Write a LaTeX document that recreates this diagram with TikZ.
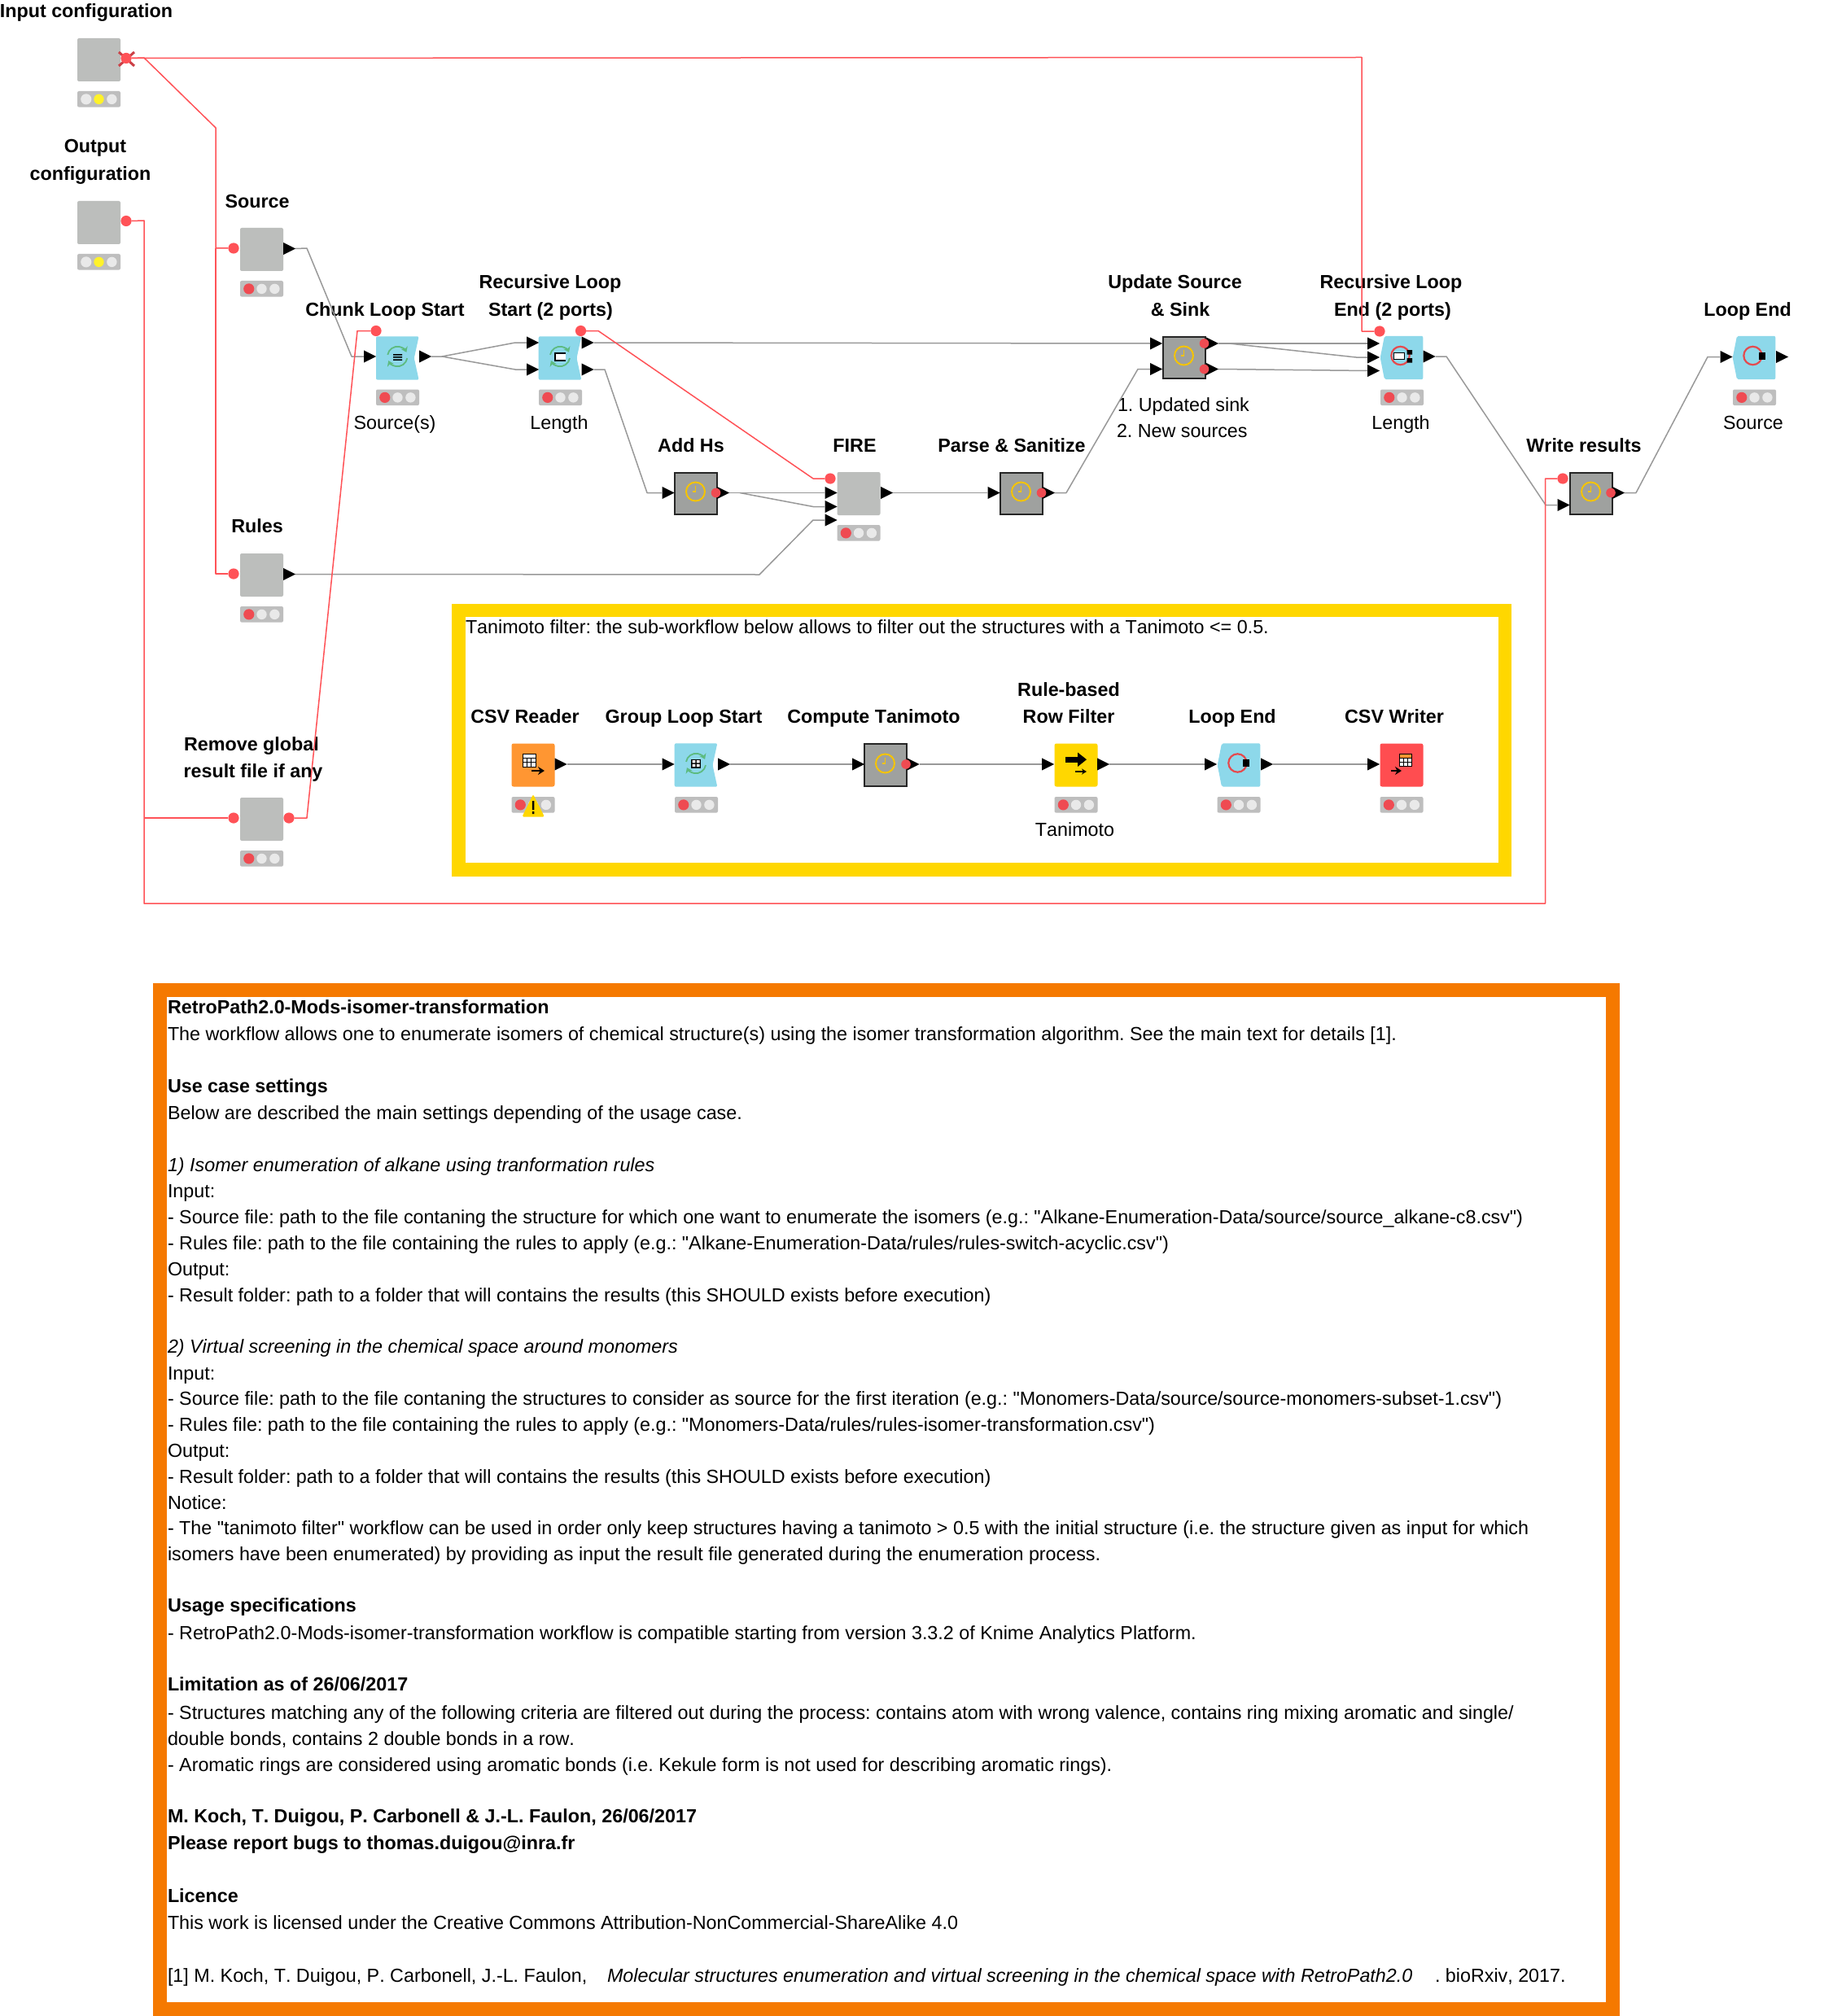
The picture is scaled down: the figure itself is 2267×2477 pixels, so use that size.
\documentclass[tikz,border=0pt]{standalone}
\usepackage{fontspec}
\setmainfont{Liberation Sans}[Ligatures={TeXOff,NoCommon},Kerning=Off]
\AtBeginDocument{\frenchspacing}
\usetikzlibrary{shapes.geometric,arrows.meta}
\definecolor{cgray}{HTML}{999999}
\definecolor{cred}{HTML}{FF5257}
\definecolor{cmeta}{HTML}{BCBEBC}
\definecolor{cstat}{HTML}{BEBEBE}
\definecolor{cdotr}{HTML}{EF4B52}
\definecolor{cdotw}{HTML}{E9E9E9}
\definecolor{cdoty}{HTML}{FFF22A}
\definecolor{cclock}{HTML}{9FA19F}
\definecolor{cclk}{HTML}{F5C400}
\definecolor{cblue}{HTML}{8DD8EA}
\definecolor{cgreen}{HTML}{5DBB80}
\definecolor{corange}{HTML}{FF9632}
\definecolor{cyell}{HTML}{FFD700}
\definecolor{cwriter}{HTML}{FF4D50}
\definecolor{cframeo}{HTML}{F57900}
\tikzset{
 x=0.5pt,y=-0.5pt,
 lbl/.style={font=\fontsize{11.65}{14}\selectfont\bfseries,anchor=base,inner sep=0pt,outer sep=0pt},
 nlb/.style={font=\fontsize{11.65}{14}\selectfont,anchor=base,inner sep=0pt,outer sep=0pt},
 txt/.style={font=\fontsize{11.65}{14}\selectfont,anchor=base west,inner sep=0pt,outer sep=0pt},
 txb/.style={txt,font=\fontsize{11.65}{14}\selectfont\bfseries},
 txi/.style={txt,font=\fontsize{11.65}{14}\selectfont\itshape},
 gline/.style={draw=cgray,line width=0.75pt,line join=round},
 rline/.style={draw=cred,line width=0.75pt,line join=round},
 metabox/.style={rectangle,rounded corners=1pt,fill=cmeta,minimum width=26.5pt,minimum height=26.5pt,inner sep=0pt,outer sep=0pt},
 clockbox/.style={rectangle,fill=cclock,draw=black!85,line width=0.9pt,minimum width=25.8pt,minimum height=25.8pt,inner sep=0pt,outer sep=0pt},
 flatbox/.style={rectangle,rounded corners=1.2pt,minimum width=26.5pt,minimum height=26.5pt,inner sep=0pt,outer sep=0pt},
 blankbox/.style={rectangle,minimum width=26.5pt,minimum height=26.5pt,inner sep=0pt,outer sep=0pt},
 statbg/.style={rectangle,rounded corners=1pt,fill=cstat,minimum width=26.5pt,minimum height=9.8pt,inner sep=0pt,outer sep=0pt,anchor=north west},
 triport/.style={isosceles triangle,isosceles triangle stretches,shape border rotate=0,fill=black,minimum width=7.6pt,minimum height=7.6pt,inner sep=0pt,outer sep=0pt,anchor=lower side},
 redport/.style={circle,fill=cred,minimum size=6.6pt,inner sep=0pt,outer sep=0pt},
 innerport/.style={circle,fill=cdotr,minimum size=5.8pt,inner sep=0pt,outer sep=0pt},
}
% status bar: name, left, top, first dot colour, second dot colour
\newcommand{\statbar}[5]{%
 \node[statbg] (#1) at (#2,#3) {};
 \fill[#4] (#2+10.8,#3+9.9) circle[radius=6.6];
 \fill[#5] (#2+26.5,#3+9.9) circle[radius=6.2];
 \fill[cdotw] (#2+42.4,#3+9.9) circle[radius=6.2];
}
\newcommand{\clockicon}[2]{%
 \draw[cclk,line width=1pt] (#1,#2) circle[radius=11.5];
 \draw[cclk,line width=0.6pt] (#1-4,#2) -- (#1,#2) -- (#1,#2-7);
}
\newcommand{\loopstart}[3]{%
 \fill[cblue,rounded corners=1pt] (#2-26.3,#3-26.7) -- (#2+26.3,#3-26.7) -- (#2+20.5,#3) -- (#2+26.3,#3+26.7) -- (#2-26.3,#3+26.7) -- cycle;
 \node[blankbox] (#1) at (#2,#3) {};
 \draw[cgreen,line width=0.9pt,-{Stealth[length=3.2pt,width=4.4pt]}] (#2-12,#3-4.1) arc[start angle=190,end angle=335,radius=12.2];
 \draw[cgreen,line width=0.9pt,-{Stealth[length=3.2pt,width=4.4pt]}] (#2+12,#3+0.1) arc[start angle=10,end angle=155,radius=12.2];
}
\newcommand{\loopend}[3]{%
 \fill[cblue,rounded corners=1pt] (#2-21,#3-26.7) -- (#2+26.3,#3-26.7) -- (#2+26.3,#3+26.7) -- (#2-21,#3+26.7) -- (#2-26.3,#3) -- cycle;
 \node[blankbox] (#1) at (#2,#3) {};
 \draw[cred!90!black,line width=1.1pt] (#2-1.5,#3-2.5) circle[radius=11.2];
}
\newcommand{\gridtable}[5]{% left top right bottom header colour
 \fill[white] (#1,#2) rectangle (#3,#4);
 \fill[#5] (#1,#2) rectangle (#3,#2+5);
 \draw[black,line width=0.45pt] (#1,#2) rectangle (#3,#4);
 \draw[black,line width=0.4pt] (#1,#2+5) -- (#3,#2+5) (#1,{(#2+5+#4)/2}) -- (#3,{(#2+5+#4)/2}) ({#1+(#3-#1)/3},#2+5) -- ({#1+(#3-#1)/3},#4) ({#1+2*(#3-#1)/3},#2+5) -- ({#1+2*(#3-#1)/3},#4);
}
\begin{document}
\begin{tikzpicture}
\useasboundingbox (0,0) rectangle (2267,2477);
\fill[white] (0,0) rectangle (2267,2477);
% frames
\fill[cyell] (555,742) rectangle (1857,1077);
\fill[white] (572,758) rectangle (1841,1060);
\fill[cframeo] (188,1208) rectangle (1990,2477);
\fill[white] (205,1225) rectangle (1973,2460);
% labels
\node[lbl] (tInp) at (106,21.5) {Input configuration};
\node[lbl] (tOut1) at (117,188) {Output};
\node[lbl] (tOut2) at (111,221.5) {configuration};
\node[lbl] (tSrc) at (316,255.5) {Source};
\node[lbl] (tChunk) at (473,388) {Chunk Loop Start};
\node[lbl] (tRecS1) at (676,354.5) {Recursive Loop};
\node[lbl] (tRecS2) at (676.5,388) {Start (2 ports)};
\node[nlb] (tSrcs) at (485,527) {Source(s)};
\node[nlb] (tLen1) at (687,527) {Length};
\node[lbl] (tAdd) at (849,555) {Add Hs};
\node[lbl] (tFire) at (1050,555) {FIRE};
\node[lbl] (tParse) at (1243,555) {Parse \& Sanitize};
\node[lbl] (tUpd1) at (1443.5,355) {Update Source};
\node[lbl] (tUpd2) at (1450,388) {\& Sink};
\node[txt] (tUpd3) at (1373,505) {1. Updated sink};
\node[txt] (tUpd4) at (1372,537) {2. New sources};
\node[lbl] (tRecE1) at (1709,355) {Recursive Loop};
\node[lbl] (tRecE2) at (1711,388) {End (2 ports)};
\node[nlb] (tLen2) at (1721,527) {Length};
\node[lbl] (tWrite) at (1946,555) {Write results};
\node[lbl] (tLend) at (2147,388) {Loop End};
\node[nlb] (tSrc2) at (2154,527) {Source};
\node[lbl] (tRules) at (316,654.5) {Rules};
\node[lbl] (tRem1) at (309,922) {Remove global};
\node[lbl] (tRem2) at (311,955) {result file if any};
\node[txt] (tTani) at (572,778) {Tanimoto filter: the sub-workflow below allows to filter out the structures with a Tanimoto <= 0.5.};
\node[lbl] (tCsvR) at (645,888) {CSV Reader};
\node[lbl] (tGls) at (840,888) {Group Loop Start};
\node[lbl] (tComp) at (1073.5,888) {Compute Tanimoto};
\node[lbl] (tRule1) at (1313,855) {Rule-based};
\node[lbl] (tRule2) at (1313,888) {Row Filter};
\node[lbl] (tSubE) at (1514,888) {Loop End};
\node[lbl] (tCsvW) at (1713,888) {CSV Writer};
\node[nlb] (tTani2) at (1320.5,1027) {Tanimoto};
% body text
\node[txb] (b01) at (206,1245) {RetroPath2.0-Mods-isomer-transformation};
\node[txt] (b02) at (206,1278) {The workflow allows one to enumerate isomers of chemical structure(s) using the isomer transformation algorithm. See the main text for details [1].};
\node[txb] (b03) at (206,1342) {Use case settings};
\node[txt] (b04) at (206,1375) {Below are described the main settings depending of the usage case.};
\node[txi] (b05) at (206,1439) {1) Isomer enumeration of alkane using tranformation rules};
\node[txt] (b06) at (206,1471) {Input:};
\node[txt] (b07) at (206,1503) {- Source file: path to the file contaning the structure for which one want to enumerate the isomers (e.g.: "Alkane-Enumeration-Data/source/source\_alkane-c8.csv")};
\node[txt] (b08) at (206,1535) {- Rules file: path to the file containing the rules to apply (e.g.: "Alkane-Enumeration-Data/rules/rules-switch-acyclic.csv")};
\node[txt] (b09) at (206,1567) {Output:};
\node[txt] (b10) at (206,1599) {- Result folder: path to a folder that will contains the results (this SHOULD exists before execution)};
\node[txi] (b11) at (206,1662) {2) Virtual screening in the chemical space around monomers};
\node[txt] (b12) at (206,1695) {Input:};
\node[txt] (b13) at (206,1726.5) {- Source file: path to the file contaning the structures to consider as source for the first iteration (e.g.: "Monomers-Data/source/source-monomers-subset-1.csv")};
\node[txt] (b14) at (206,1758) {- Rules file: path to the file containing the rules to apply (e.g.: "Monomers-Data/rules/rules-isomer-transformation.csv")};
\node[txt] (b15) at (206,1790) {Output:};
\node[txt] (b16) at (206,1822) {- Result folder: path to a folder that will contains the results (this SHOULD exists before execution)};
\node[txt] (b17) at (206,1854) {Notice:};
\node[txt] (b18) at (206,1885) {- The "tanimoto filter" workflow can be used in order only keep structures having a tanimoto > 0.5 with the initial structure (i.e. the structure given as input for which};
\node[txt] (b19) at (206,1917) {isomers have been enumerated) by providing as input the result file generated during the enumeration process.};
\node[txb] (b20) at (206,1980) {Usage specifications};
\node[txt] (b21) at (206,2014) {- RetroPath2.0-Mods-isomer-transformation workflow is compatible starting from version 3.3.2 of Knime Analytics Platform.};
\node[txb] (b22) at (206,2077) {Limitation as of 26/06/2017};
\node[txt] (b23) at (206,2112) {- Structures matching any of the following criteria are filtered out during the process: contains atom with wrong valence, contains ring mixing aromatic and single/};
\node[txt] (b24) at (206,2144) {double bonds, contains 2 double bonds in a row.};
\node[txt] (b25) at (206,2176) {- Aromatic rings are considered using aromatic bonds (i.e. Kekule form is not used for describing aromatic rings).};
\node[txb] (b26) at (206,2239) {M. Koch, T. Duigou, P. Carbonell \& J.-L. Faulon, 26/06/2017};
\node[txb] (b27) at (206,2272) {Please report bugs to thomas.duigou@inra.fr};
\node[txb] (b28) at (206,2337) {Licence};
\node[txt] (b29) at (206,2370) {This work is licensed under the Creative Commons Attribution-NonCommercial-ShareAlike 4.0};
\node[txt] (b30) at (206,2435) {[1] M. Koch, T. Duigou, P. Carbonell, J.-L. Faulon,};
\node[txi] (b31) at (746,2435) {Molecular structures enumeration and virtual screening in the chemical space with RetroPath2.0};
\node[txt] (b32) at (1763,2435) {. bioRxiv, 2017.};
% node bodies
\node[metabox] (inp) at (121.5,73.5) {};
\statbar{sInp}{95}{112}{cdotw}{cdoty}
\node[metabox] (outp) at (121.5,273.5) {};
\statbar{sOut}{95}{312}{cdotw}{cdoty}
\node[metabox] (src) at (321.5,306.5) {};
\statbar{sSrc}{295}{345}{cdotr}{cdotw}
\node[metabox] (rules) at (321.5,706.5) {};
\statbar{sRules}{295}{745}{cdotr}{cdotw}
\node[metabox] (rem) at (321.5,1006.5) {};
\statbar{sRem}{295}{1045}{cdotr}{cdotw}
\loopstart{chunk}{488.3}{440}
\statbar{sChunk}{462}{478.5}{cdotr}{cdotw}
\fill[black] (483,435) rectangle (494,436.5) (483,438.2) rectangle (494,439.7) (483,441.4) rectangle (494,442.9);
\loopstart{recs}{688}{440}
\statbar{sRecs}{662}{478.5}{cdotr}{cdotw}
\fill[white] (682,434) rectangle (695,443);
\draw[black,line width=0.8pt] (695,434) -- (682,434) -- (682,443) -- (695,443);
\node[clockbox] (adds) at (855,606.5) {};
\clockicon{854.5}{604}
\node[metabox] (fire) at (1055,606.5) {};
\statbar{sFire}{1028.5}{645}{cdotr}{cdotw}
\node[clockbox] (parse) at (1255,606.5) {};
\clockicon{1254.5}{604}
\node[clockbox] (upd) at (1455,439.5) {};
\clockicon{1454.5}{437}
\loopend{rece}{1722}{439.5}
\statbar{sRece}{1696}{478.5}{cdotr}{cdotw}
\fill[white] (1712,433) rectangle (1725,441);
\draw[black,line width=0.5pt] (1712,433) rectangle (1725,441);
\fill[black] (1728.5,430) rectangle (1735,435.5) (1728.5,440) rectangle (1735,445.5);
\node[clockbox] (wr) at (1955,606.5) {};
\clockicon{1954.5}{604}
\loopend{lend}{2155}{439.5}
\statbar{sLend}{2129}{478.5}{cdotr}{cdotw}
\fill[black] (2160.5,433) rectangle (2169,442);
% sub-workflow node bodies
\node[flatbox,fill=corange] (csvr) at (655,940) {};
\statbar{sCsvr}{628.5}{979}{cdotr}{cdotw}
\fill[cyell,rounded corners=0.8pt] (655,976) -- (669,1003.5) -- (641.5,1003.5) -- cycle;
\fill[black] (653.8,984) rectangle (656.4,995) (653.8,997) rectangle (656.4,1000);
\gridtable{642}{926}{658}{942}{white}
\draw[black,line width=1.4pt,-{Stealth[length=4pt,width=5pt]}] (653,947) -- (669,947);
\loopstart{gls}{855}{940}
\statbar{sGls}{829}{979}{cdotr}{cdotw}
\fill[black] (849,932.5) rectangle (861,943.5);
\fill[white] (850.5,934) rectangle (854.3,937.4) (855.8,934) rectangle (859.5,937.4) (850.5,938.9) rectangle (854.3,942) (855.8,938.9) rectangle (859.5,942);
\node[clockbox] (comp) at (1088,940) {};
\clockicon{1087.5}{938}
\node[flatbox,fill=cyell] (rulef) at (1322,940) {};
\statbar{sRule}{1295.5}{979}{cdotr}{cdotw}
\fill[black] (1308.5,930) rectangle (1326,936.5);
\fill[black] (1324,924.5) -- (1335,933.2) -- (1324,942) -- cycle;
\draw[black,line width=0.8pt,-{Stealth[length=3pt,width=3.5pt]}] (1320.5,948) -- (1335,948);
\loopend{subend}{1522}{940}
\statbar{sSubE}{1495.5}{979}{cdotr}{cdotw}
\fill[black] (1527,933) rectangle (1535,942);
\node[flatbox,fill=cwriter] (csvw) at (1722,940) {};
\statbar{sCsvw}{1695.5}{979}{cdotr}{cdotw}
\gridtable{1719}{926}{1734}{941}{corange}
\draw[black,line width=1.4pt,-{Stealth[length=4pt,width=5pt]}] (1709,947) -- (1722,947);
% ports
\node[triport] (oSrc) at (348,305.5) {};
\node[triport] (iChunk) at (447,438) {};
\node[triport] (oChunk) at (515,438) {};
\node[triport] (iRecs1) at (647,421) {};
\node[triport] (iRecs2) at (647,454) {};
\node[triport] (oRecs1) at (714.5,421) {};
\node[triport] (oRecs2) at (714.5,454) {};
\node[triport] (iAdds) at (813.5,605.5) {};
\node[triport] (oAdds) at (881,605.5) {};
\node[triport] (iFire1) at (1013.5,605.5) {};
\node[triport] (iFire2) at (1013.5,622.5) {};
\node[triport] (iFire3) at (1013.5,639) {};
\node[triport] (oFire) at (1082,605.5) {};
\node[triport] (iParse) at (1213.5,605.5) {};
\node[triport] (oParse) at (1281,605.5) {};
\node[triport] (iUpd1) at (1413,422) {};
\node[triport] (iUpd2) at (1413,453.5) {};
\node[triport] (oUpd1) at (1482,422) {};
\node[triport] (oUpd2) at (1482,453.5) {};
\node[triport] (iRece1) at (1680,422) {};
\node[triport] (iRece2) at (1680,439) {};
\node[triport] (iRece3) at (1680,455.5) {};
\node[triport] (oRece) at (1748.5,438) {};
\node[triport] (iWr) at (1913.5,620.5) {};
\node[triport] (oWr) at (1981,605.5) {};
\node[triport] (iLend) at (2113.5,438.5) {};
\node[triport] (oLend) at (2182,438.5) {};
\node[triport] (oRules) at (348,705.5) {};
\node[triport] (oCsvr) at (681.5,939) {};
\node[triport] (iGls) at (813.5,939) {};
\node[triport] (oGls) at (882,939) {};
\node[triport] (iComp) at (1047,939) {};
\node[triport] (oComp) at (1114.5,939) {};
\node[triport] (iRule) at (1280,939) {};
\node[triport] (oRule) at (1348,939) {};
\node[triport] (iSubE) at (1480,939) {};
\node[triport] (oSubE) at (1549,939) {};
\node[triport] (iCsvw) at (1680,939) {};
% flow variable ports
\draw[cdotr!85!black,line width=1.5pt] (146,64) -- (165,81) (146,81) -- (165,64);
\node[redport] (pInp) at (155,71.5) {};
\node[redport] (pOut) at (155,271.5) {};
\node[redport] (pSrc) at (287,305) {};
\node[redport] (pRules) at (287,705) {};
\node[redport] (pRemL) at (287,1005) {};
\node[redport] (pRemR) at (355,1005) {};
\node[redport] (pChunk) at (462,406.5) {};
\node[redport] (pRecs) at (713.5,406.5) {};
\node[redport] (pFire) at (1020,588) {};
\node[redport] (pRece) at (1695,407) {};
\node[redport] (pWr) at (1920,588) {};
\node[innerport] (rAdds) at (879.5,605.5) {};
\node[innerport] (rParse) at (1279.5,605.5) {};
\node[innerport] (rWr) at (1979,605.5) {};
\node[innerport] (rUpd1) at (1479.5,422) {};
\node[innerport] (rUpd2) at (1479.5,453.5) {};
\node[innerport] (rComp) at (1113,939) {};
% data connectors
\draw[gline] (oSrc.apex) -- (377,305) -- (432,438) -- (iChunk.lower side);
\draw[gline] (oChunk.apex) -- (543,438) -- (633,421) -- (iRecs1.lower side);
\draw[gline] (543,438) -- (633,454) -- (iRecs2.lower side);
\draw[gline] (oRecs1.apex) -- (iUpd1.lower side);
\draw[gline] (oRecs2.apex) -- (743,454) -- (795,605.5) -- (iAdds.lower side);
\draw[gline] (oAdds.apex) -- (iFire1.lower side);
\draw[gline] (909,605.5) -- (999,622.5) -- (iFire2.lower side);
\draw[gline] (oRules.apex) -- (933,706) -- (999,639) -- (iFire3.lower side);
\draw[gline] (oFire.apex) -- (iParse.lower side);
\draw[gline] (oParse.apex) -- (1310,605.5) -- (1398,453.5) -- (iUpd2.lower side);
\draw[gline] (oUpd1.apex) -- (iRece1.lower side);
\draw[gline] (1510,422) -- (1666,439) -- (iRece2.lower side);
\draw[gline] (oUpd2.apex) -- (iRece3.lower side);
\draw[gline] (oRece.apex) -- (1777,438) -- (1899,620.5) -- (iWr.lower side);
\draw[gline] (oWr.apex) -- (2010,605.5) -- (2098,438.5) -- (iLend.lower side);
\draw[gline] (oCsvr.apex) -- (iGls.lower side);
\draw[gline] (oGls.apex) -- (iComp.lower side);
\draw[gline] (oComp.apex) -- (iRule.lower side);
\draw[gline] (oRule.apex) -- (iSubE.lower side);
\draw[gline] (oSubE.apex) -- (iCsvw.lower side);
% flow variable connectors
\draw[rline] (pInp.east) -- (1673,70.5) -- (1673,407) -- (pRece.west);
\draw[rline] (pInp.east) -- (177,71) -- (265,157) -- (265,305) -- (pSrc.west);
\draw[rline] (265,305) -- (265,705) -- (pRules.west);
\draw[rline] (pOut.east) -- (177,271) -- (177,1110) -- (1898.5,1110) -- (1898.5,588) -- (pWr.west);
\draw[rline] (177,1005) -- (pRemL.west);
\draw[rline] (pRemR.east) -- (377,1005) -- (439,406.5) -- (pChunk.west);
\draw[rline] (pRecs.east) -- (735,406.5) -- (999,588) -- (pFire.west);
\end{tikzpicture}
\end{document}
